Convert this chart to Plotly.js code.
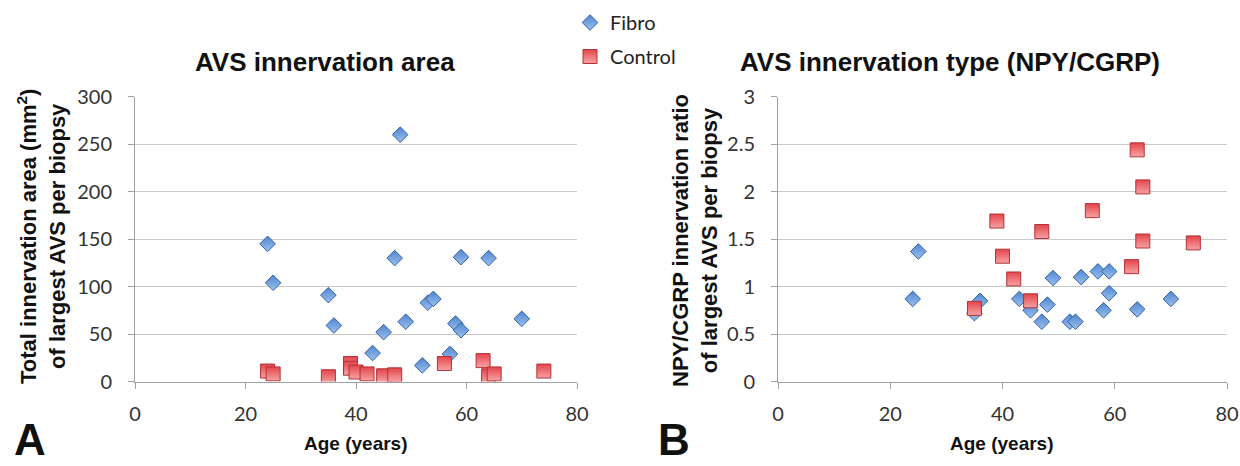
<!DOCTYPE html>
<html>
<head>
<meta charset="utf-8">
<script src="https://cdn.plot.ly/plotly-3.0.1.min.js"></script>
<style>html,body{margin:0;padding:0;background:#fff;}#chart{width:1240px;height:466px;}</style>
</head>
<body>
<div id="chart"></div>
<script>
// ---- Data ----
// Panel A: AVS innervation area (mm^2) vs age
const fibroAgeA  = [24, 25, 35, 36, 43, 45, 47, 48, 49, 52, 53, 54, 57, 58, 59, 59, 64, 70];
const fibroAreaA = [145, 104, 91, 59, 30, 52, 130, 260, 63, 17, 83, 87, 29, 61, 54, 131, 130, 66];
const ctrlAgeA   = [24, 25, 35, 39, 39, 40, 42, 45, 47, 56, 63, 64, 65, 74];
const ctrlAreaA  = [11, 8, 5, 19, 14, 10, 8, 6, 7, 19, 22, 6, 8, 11];

// Panel B: NPY/CGRP innervation ratio vs age
const fibroAgeB   = [24, 25, 35, 36, 43, 45, 47, 48, 49, 52, 53, 54, 57, 58, 59, 59, 64, 70];
const fibroRatioB = [0.87, 1.37, 0.72, 0.85, 0.87, 0.75, 0.63, 0.81, 1.09, 0.63, 0.63, 1.10, 1.16, 0.75, 1.16, 0.93, 0.76, 0.87];
const ctrlAgeB    = [35, 39, 40, 42, 45, 47, 56, 63, 64, 65, 65, 74];
const ctrlRatioB  = [0.77, 1.69, 1.32, 1.08, 0.85, 1.58, 1.80, 1.21, 2.44, 2.05, 1.48, 1.46];

const seriesNames = ["Fibro", "Control"];
const xTicks  = [0, 20, 40, 60, 80];
const yTicksA = [0, 50, 100, 150, 200, 250, 300];
const yTicksB = [0, 0.5, 1, 1.5, 2, 2.5, 3];
const yTickTextB = ["0", "0.5", "1", "1.5", "2", "2.5", "3"];

// ---- Styles ----
const W = 1240, H = 466;
const px = v => v / W;
const py = v => 1 - v / H;
const tickFont = {family: "Lato, 'Open Sans', sans-serif", size: 20, color: "#333333"};
const boldFont = (s) => ({family: "'Liberation Sans', Arial, sans-serif", size: s, color: "#111"});

const fibroMarker = {symbol: "diamond", size: 12, color: "#4f86cf",
  line: {color: "#3262a3", width: 1}, gradient: {type: "vertical", color: "#9cc0ee"}};
const ctrlMarker = {symbol: "square", size: 14, color: "#e3454a",
  line: {color: "#b23237", width: 1}, gradient: {type: "vertical", color: "#f7a3a5"}};

const traces = [
  {x: fibroAgeA, y: fibroAreaA, type: "scatter", mode: "markers", name: seriesNames[0],
   marker: fibroMarker, xaxis: "x", yaxis: "y", legendgroup: "f", showlegend: true},
  {x: ctrlAgeA, y: ctrlAreaA, type: "scatter", mode: "markers", name: seriesNames[1],
   marker: ctrlMarker, xaxis: "x", yaxis: "y", legendgroup: "c", showlegend: true},
  {x: fibroAgeB, y: fibroRatioB, type: "scatter", mode: "markers", name: seriesNames[0],
   marker: fibroMarker, xaxis: "x2", yaxis: "y2", legendgroup: "f", showlegend: false},
  {x: ctrlAgeB, y: ctrlRatioB, type: "scatter", mode: "markers", name: seriesNames[1],
   marker: ctrlMarker, xaxis: "x2", yaxis: "y2", legendgroup: "c", showlegend: false}
];

const xCommon = {
  range: [0, 80], tickvals: xTicks, ticks: "outside", ticklen: 6, tickcolor: "#a0a0a0",
  showline: true, linecolor: "#a0a0a0", linewidth: 1, showgrid: false, zeroline: false,
  tickfont: tickFont, ticklabelstandoff: 8, fixedrange: true
};
const yCommon = {
  ticks: "outside", ticklen: 6, tickcolor: "#a0a0a0",
  showline: true, linecolor: "#a0a0a0", linewidth: 1,
  showgrid: true, gridcolor: "#c9c9c9", gridwidth: 1, zeroline: false,
  tickfont: tickFont, ticklabelstandoff: 12, fixedrange: true
};

const yBottom = 381.5, yTop = 96.7;

const layout = {
  width: W, height: H,
  margin: {l: 0, r: 0, t: 0, b: 0},
  paper_bgcolor: "#ffffff", plot_bgcolor: "#ffffff",
  showlegend: true,
  legend: {x: px(570), y: py(3), xanchor: "left", yanchor: "top",
           font: {family: "Lato, 'Open Sans', sans-serif", size: 20, color: "#222"},
           traceorder: "grouped", tracegroupgap: 5, bgcolor: "rgba(0,0,0,0)"},
  xaxis: Object.assign({}, xCommon, {domain: [px(135), px(577)], anchor: "y"}),
  yaxis: Object.assign({}, yCommon, {domain: [py(yBottom), py(yTop)], range: [0, 300],
          tickvals: yTicksA, anchor: "x"}),
  xaxis2: Object.assign({}, xCommon, {domain: [px(778), px(1227)], anchor: "y2"}),
  yaxis2: Object.assign({}, yCommon, {domain: [py(yBottom), py(yTop)], range: [0, 3],
          tickvals: yTicksB, ticktext: yTickTextB, anchor: "x2"}),
  annotations: [
    {text: "<b>AVS innervation area</b>", xref: "paper", yref: "paper", x: px(325), y: py(62),
     xanchor: "center", yanchor: "middle", showarrow: false, font: boldFont(26)},
    {text: "<b>AVS innervation type (NPY/CGRP)</b>", xref: "paper", yref: "paper", x: px(950), y: py(62),
     xanchor: "center", yanchor: "middle", showarrow: false, font: boldFont(26)},
    {text: "<b>Total innervation area (mm<sup>2</sup>)<br>of largest AVS per biopsy</b>", xref: "paper", yref: "paper",
     x: px(42), y: py(237), xanchor: "center", yanchor: "middle", textangle: -90, showarrow: false,
     font: boldFont(22)},
    {text: "<b>NPY/CGRP innervation ratio<br>of largest AVS per biopsy</b>", xref: "paper", yref: "paper",
     x: px(695), y: py(240), xanchor: "center", yanchor: "middle", textangle: -90, showarrow: false,
     font: boldFont(22)},
    {text: "<b>Age (years)</b>", xref: "paper", yref: "paper", x: px(356), y: py(443),
     xanchor: "center", yanchor: "middle", showarrow: false, font: boldFont(19)},
    {text: "<b>Age (years)</b>", xref: "paper", yref: "paper", x: px(1002), y: py(443),
     xanchor: "center", yanchor: "middle", showarrow: false, font: boldFont(19)},
    {text: "<b>A</b>", xref: "paper", yref: "paper", x: px(12), y: 0, yshift: 0,
     xanchor: "left", yanchor: "bottom", showarrow: false, font: boldFont(44)},
    {text: "<b>B</b>", xref: "paper", yref: "paper", x: px(656), y: 0, yshift: 0,
     xanchor: "left", yanchor: "bottom", showarrow: false, font: boldFont(44)}
  ]
};

Plotly.newPlot("chart", traces, layout, {displayModeBar: false, staticPlot: true});
</script>
</body>
</html>
